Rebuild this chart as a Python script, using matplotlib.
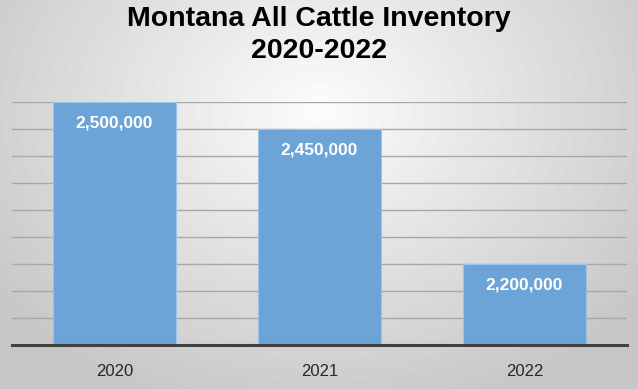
import matplotlib.pyplot as plt
import numpy as np

years = ["2020", "2021", "2022"]
inventory = [2500000, 2450000, 2200000]
labels = ["2,500,000", "2,450,000", "2,200,000"]

plt.rcParams['font.family'] = ['Liberation Sans', 'DejaVu Sans']

fig = plt.figure(figsize=(6.38, 3.89), dpi=100)

# radial gray gradient background
bg = fig.add_axes([0, 0, 1, 1])
yy, xx = np.mgrid[0:389, 0:638]
r = np.sqrt(((xx - 319) / 420.0) ** 2 + ((yy - 110) / 330.0) ** 2)
shade = np.clip(0.99 - 0.22 * r, 0.78, 0.99)
bg.imshow(shade, cmap='gray', vmin=0, vmax=1, aspect='auto', extent=[0, 1, 0, 1])
bg.axis('off')

ax = fig.add_axes([12 / 638, 44 / 389, 615 / 638, 243 / 389])
ax.patch.set_alpha(0)
x = np.arange(len(years))
ax.bar(x, inventory, 0.6, bottom=0, color='#6ca4d8', edgecolor='#9cc3e8',
       linewidth=0.8, zorder=3)
ax.set_xlim(-0.5, len(years) - 0.5)
ax.set_ylim(2050000, 2500000)
ax.set_yticks(np.arange(2050000, 2500001, 50000))
ax.set_yticklabels([])
ax.tick_params(axis='y', length=0)
ax.tick_params(axis='x', length=0, pad=14, labelsize=12, labelcolor='#262626')
ax.set_xticks(x)
ax.set_xticklabels(years)
ax.yaxis.grid(True, color='#a8a8a8', linewidth=1.0, zorder=1)
for s in ['top', 'right', 'left']:
    ax.spines[s].set_visible(False)
ax.spines['bottom'].set_color('#404040')
ax.spines['bottom'].set_linewidth(2.2)
ax.spines['bottom'].set_zorder(4)

for xi, v, lab in zip(x, inventory, labels):
    ax.annotate(lab, (xi, v), xytext=(0, -21), textcoords='offset pixels',
                ha='center', va='center', color='white', fontsize=12.5,
                fontweight='bold', zorder=5)

fig.text(0.5, 1 - 35 / 389, "Montana All Cattle Inventory\n2020-2022",
         ha='center', va='center', fontsize=20.5, fontweight='bold',
         linespacing=1.28, color='black')

plt.savefig('out.png', dpi=100)
